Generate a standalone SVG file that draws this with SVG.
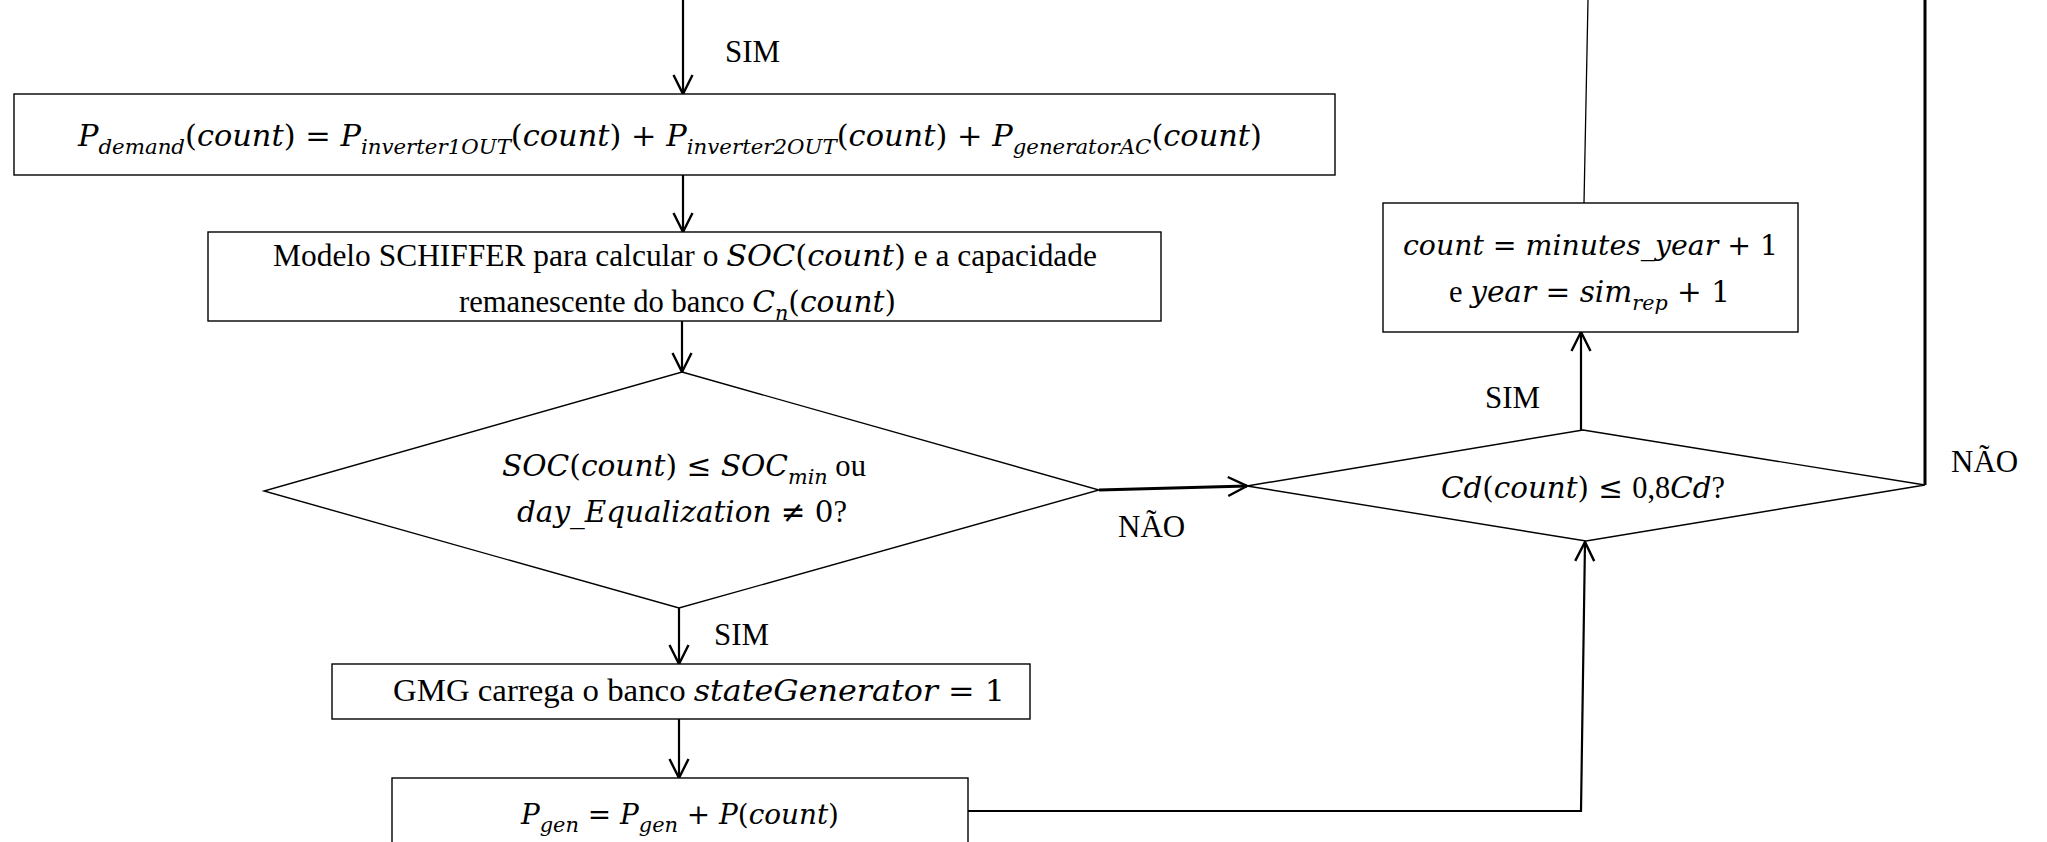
<svg xmlns="http://www.w3.org/2000/svg" width="2047" height="842" viewBox="0 0 2047 842">
<style>
.box{fill:#fff;stroke:#000;stroke-width:1.4}
.dia{fill:#fff;stroke:#000;stroke-width:1.4}
.c{fill:none;stroke:#000;stroke-width:2.2}
.ct{fill:none;stroke:#000;stroke-width:3}
.cthin{fill:none;stroke:#000;stroke-width:1.3}
.t{font-family:"Liberation Serif","Times New Roman",serif;font-style:normal;font-size:31px}
.m{font-family:"DejaVu Serif",serif;font-style:italic;font-size:30px;fill:#000}
.m28{font-size:28px}
.u{font-family:"DejaVu Serif",serif;font-style:normal}
.s{font-size:21px}
.lbl{font-family:"Liberation Serif","Times New Roman",serif;font-size:31px;fill:#000}
</style>
<defs>
<marker id="arr" viewBox="0 0 22 22" refX="20" refY="11" markerWidth="22" markerHeight="22" markerUnits="userSpaceOnUse" orient="auto">
<path d="M1,1.5 L20,11 L1,20.5" fill="none" stroke="#000" stroke-width="2.4"/>
</marker>
</defs>

<g id="connectors">
<line class="c" x1="683" y1="0" x2="683" y2="94" marker-end="url(#arr)"/>
<line class="c" x1="683" y1="175" x2="683" y2="232" marker-end="url(#arr)"/>
<line class="c" x1="682" y1="321" x2="682" y2="372" marker-end="url(#arr)"/>
<line class="c" x1="679" y1="608" x2="679" y2="664" marker-end="url(#arr)"/>
<line class="c" x1="679" y1="719" x2="679" y2="778" marker-end="url(#arr)"/>
<line class="ct" x1="1099" y1="490" x2="1247" y2="486" marker-end="url(#arr)"/>
<polyline class="c" points="968,811 1581,811 1585,542" marker-end="url(#arr)"/>
<line class="c" x1="1581" y1="430" x2="1581" y2="332" marker-end="url(#arr)"/>
<line class="cthin" x1="1584" y1="203" x2="1588" y2="0"/>
<polyline class="ct" points="1925,485 1925,0"/>
<text class="lbl" x="725" y="62">SIM</text>
<text class="lbl" x="1118" y="537">NÃO</text>
<text class="lbl" x="714" y="645">SIM</text>
<text class="lbl" x="1485" y="408">SIM</text>
<text class="lbl" x="1951" y="472">NÃO</text>
</g>

<g id="box1">
<rect class="box" x="14" y="94" width="1321" height="81"/>
<text class="m" x="78" y="146" textLength="1184" lengthAdjust="spacingAndGlyphs"><tspan>P</tspan><tspan class="s" dy="8">demand</tspan><tspan class="u" dy="-8">(</tspan><tspan>count</tspan><tspan class="u">) = </tspan><tspan>P</tspan><tspan class="s" dy="8">inverter1OUT</tspan><tspan class="u" dy="-8">(</tspan><tspan>count</tspan><tspan class="u">) + </tspan><tspan>P</tspan><tspan class="s" dy="8">inverter2OUT</tspan><tspan class="u" dy="-8">(</tspan><tspan>count</tspan><tspan class="u">) + </tspan><tspan>P</tspan><tspan class="s" dy="8">generatorAC</tspan><tspan class="u" dy="-8">(</tspan><tspan>count</tspan><tspan class="u">)</tspan></text>
</g>

<g id="box2">
<rect class="box" x="208" y="232" width="953" height="89"/>
<text class="m" x="273" y="266" textLength="824" lengthAdjust="spacingAndGlyphs"><tspan class="t">Modelo SCHIFFER para calcular o </tspan><tspan>SOC</tspan><tspan class="u">(</tspan><tspan>count</tspan><tspan class="u">)</tspan><tspan class="t"> e a capacidade</tspan></text>
<text class="m" x="459" y="312" textLength="437" lengthAdjust="spacingAndGlyphs"><tspan class="t">remanescente do banco </tspan><tspan>C</tspan><tspan class="s" dy="8">n</tspan><tspan class="u" dy="-8">(</tspan><tspan>count</tspan><tspan class="u">)</tspan></text>
</g>

<g id="decision1">
<polygon class="dia" points="682,372 1099,490 679,608 264,491"/>
<text class="m" x="502" y="476" textLength="364" lengthAdjust="spacingAndGlyphs"><tspan>SOC</tspan><tspan class="u">(</tspan><tspan>count</tspan><tspan class="u">) ≤ </tspan><tspan>SOC</tspan><tspan class="s" dy="8">min</tspan><tspan class="t" dy="-8"> ou</tspan></text>
<text class="m" x="517" y="522" textLength="330" lengthAdjust="spacingAndGlyphs"><tspan>day_Equalization</tspan><tspan class="u"> ≠ 0</tspan><tspan class="t">?</tspan></text>
</g>

<g id="box3">
<rect class="box" x="332" y="664" width="698" height="55"/>
<text class="m" x="393" y="701" textLength="612" lengthAdjust="spacingAndGlyphs"><tspan class="t">GMG carrega o banco </tspan><tspan>stateGenerator</tspan><tspan class="u"> = 1</tspan></text>
</g>

<g id="box4">
<rect class="box" x="392" y="778" width="576" height="80"/>
<text class="m m28" x="521" y="824" textLength="318" lengthAdjust="spacingAndGlyphs"><tspan>P</tspan><tspan class="s" dy="8">gen</tspan><tspan class="u" dy="-8"> = </tspan><tspan>P</tspan><tspan class="s" dy="8">gen</tspan><tspan class="u" dy="-8"> + </tspan><tspan>P</tspan><tspan class="u">(</tspan><tspan>count</tspan><tspan class="u">)</tspan></text>
</g>

<g id="box5">
<rect class="box" x="1383" y="203" width="415" height="129"/>
<text class="m m28" x="1403" y="255" textLength="375" lengthAdjust="spacingAndGlyphs"><tspan>count</tspan><tspan class="u"> = </tspan><tspan>minutes_year</tspan><tspan class="u"> + 1</tspan></text>
<text class="m" x="1449" y="302" textLength="281" lengthAdjust="spacingAndGlyphs"><tspan class="t">e </tspan><tspan>year</tspan><tspan class="u"> = </tspan><tspan>sim</tspan><tspan class="s" dy="8">rep</tspan><tspan class="u" dy="-8"> + 1</tspan></text>
</g>

<g id="decision2">
<polygon class="dia" points="1583,430 1925,485 1586,541 1247,486"/>
<text class="m" x="1441" y="498" textLength="284" lengthAdjust="spacingAndGlyphs"><tspan>Cd</tspan><tspan class="u">(</tspan><tspan>count</tspan><tspan class="u">) ≤ </tspan><tspan class="t">0,8</tspan><tspan>Cd</tspan><tspan class="t">?</tspan></text>
</g>
</svg>
